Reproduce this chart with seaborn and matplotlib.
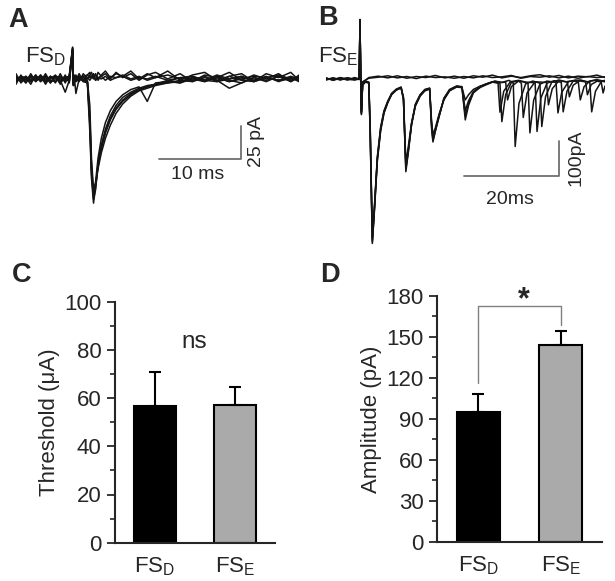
import pandas as pd
import seaborn as sns
import matplotlib.pyplot as plt
from matplotlib.ticker import MultipleLocator

# ---------------- data ----------------
# A: FS_D evoked EPSCs, time in ms, current in pA
a_time = [0.0, 0.6, 1.2, 1.8, 2.4, 3.0, 3.6, 4.2, 4.8, 5.4,
          6.0, 6.5, 6.9, 7.0, 7.1, 7.3, 7.7, 8.2, 8.7, 9.0,
          9.2, 9.45, 9.7, 10.0, 10.4, 10.9, 11.5, 12.2, 13.0, 14.0,
          15.0, 16.0, 17.0, 18.5, 20.0, 21.5, 23.0, 24.5, 26.0, 27.5,
          29.0, 30.5, 32.0, 33.5, 34.5]
a_sweep1 = [1, -2, 2, -1, 3, -2, 1, -3, 2, -1,
            2, -2, 23, -4, 1, -2, 1, -2, -3, -40,
            -75, -94, -82, -64, -50, -38, -28, -20, -14, -10,
            -7, -5, -4, -1, -3, 0, -2, 1, -2, 1,
            -1, 2, -2, 1, -1]
a_sweep2 = [-2, 2, -1, 3, -2, 1, -3, 2, 0, -2,
            1, 2, 22, -3, 2, -1, 2, -1, -2, -30,
            -68, -88, -80, -68, -56, -45, -35, -26, -19, -13,
            -9, -7, -5, -3, -2, 1, -2, 2, -1, -3,
            1, -2, 2, -1, 1]
a_sweep3 = [-1, 1, -3, 2, -1, 2, -2, 0, 3, -1,
            -10, -1, 24, -3, 1, -2, 0, 2, -1, -20,
            -60, -84, -78, -60, -45, -33, -24, -17, -12, -8,
            -6, -17, -3, -2, 1, -1, 2, -2, 0, 2,
            -2, 1, -1, 2, 0]
a_sweep4 = [2, 0, -2, 1, -1, 3, -1, 2, -2, 1,
            -1, 2, 23, -5, 2, -11, 0, -1, -2, -35,
            -72, -91, -84, -66, -52, -40, -30, -22, -16, -11,
            -8, -6, -4, -3, -1, -2, 1, -1, -7, -3,
            1, -1, 2, -2, 1]
a_sweep5 = [-2, 1, 0, -2, 2, -1, 2, -2, 1, 2,
            -2, 1, 22, -4, 2, -1, -1, 1, -2, -28,
            -66, -86, -80, -66, -53, -41, -31, -23, -17, -12,
            -8, -6, -4, -2, -3, 1, -1, -2, 2, -1,
            -2, 1, -1, 1, -2]
a_fail1 = [1, -1, 2, -2, 1, -1, 3, -1, -2, 1,
           1, -1, 21, -3, 2, 1, -1, 2, 3, 1,
           2, 0, 3, 1, 2, -1, 2, 1, 3, 0,
           2, -1, 1, 3, 0, 2, -1, 3, 0, 2,
           -1, 1, 3, 0, 2]
a_fail2 = [-1, 2, 1, -1, 0, 2, -2, 1, 2, -2,
           0, 2, 22, -4, 1, 0, 2, -1, 1, -1,
           1, 2, -1, 1, 0, 2, -1, 1, 2, -1,
           1, 0, 2, -1, 1, 2, -1, 1, -2, 0,
           2, 1, -1, 0, 1]
a_fail3 = [4, -3, 1, -4, 3, -2, 4, -3, 2, -4,
           3, -3, 22, -2, 3, -1, 4, -2, 3, 5,
           1, 4, -1, 5, 2, 4, 0, 5, 1, 4,
           -1, 3, 5, 0, 4, -2, 3, 1, 5, -1,
           3, 0, 4, -2, 3]
a_fail4 = [-4, 3, -3, 4, -2, 3, -4, 2, -3, 4,
           -3, 3, 24, -5, 0, 3, -2, 4, 0, 3,
           5, 1, 4, -1, 3, 6, 1, 4, 2, 6,
           0, 4, 1, 6, -1, 3, 5, -1, 2, 4,
           -2, 4, 1, 5, -1]

# B: FS_E evoked EPSC trains
b_early_time = [0, 1.5, 3, 4.5, 6, 7.0, 7.15, 7.3, 7.45, 7.7,
                8.3, 9.0, 9.3, 9.75, 10.2, 10.8, 11.5, 12.2, 13.0, 13.8,
                14.8, 15.8, 16.3, 16.8, 17.3, 18.0, 18.8, 19.8, 20.8, 21.8,
                22.2, 22.5, 23.0, 23.8, 24.8, 26.0, 27.5, 28.6, 29.3, 30.0,
                31.0, 32.5]
b_early1 = [3, -4, 2, -3, 4, 0, 169, 0, -100, -15,
            -8, -10, -150, -466, -370, -226, -140, -93, -65, -41,
            -29, -23, -60, -265, -212, -131, -74, -46, -31, -27,
            -140, -180, -150, -108, -55, -30, -20, -22, -117, -75,
            -40, -22]
b_early2 = [-2, 3, -3, 2, -1, 0, 165, 2, -95, -12,
            -6, -9, -135, -455, -365, -230, -148, -98, -68, -45,
            -31, -25, -55, -250, -205, -130, -78, -48, -33, -28,
            -125, -170, -145, -104, -58, -33, -22, -24, -60, -45,
            -30, -20]
b_early3 = [2, -2, 4, -1, -3, 1, 170, -2, -98, -18,
            -9, -12, -160, -470, -375, -235, -145, -96, -66, -44,
            -32, -26, -52, -240, -195, -125, -76, -49, -34, -29,
            -118, -160, -140, -100, -60, -34, -23, -25, -105, -70,
            -38, -24]
b_early4 = [-3, 2, -1, 3, -2, -1, 168, 1, -102, -14,
            -7, -11, -145, -460, -362, -222, -138, -91, -63, -43,
            -30, -24, -58, -258, -208, -128, -72, -45, -30, -26,
            -130, -176, -148, -106, -57, -31, -21, -23, -90, -62,
            -36, -21]

b_tail_time1 = [33.5, 35.0, 36.6, 37.0, 37.8, 39.0, 40.5, 42.5, 42.9, 43.7,
                45.0, 46.5, 48.4, 48.8, 49.6, 51.0, 52.5, 54.0, 55.5, 55.9,
                56.7, 58.0, 58.7]
b_tail1 = [-15, -8, -12, -122, -45, -10, -5, -12, -154, -60,
           -15, -6, -10, -97, -38, -8, -3, -7, -9, -94,
           -35, -6, -4]
b_tail_time2 = [34.0, 35.5, 37.0, 38.5, 39.4, 39.8, 40.6, 42.0, 43.5, 45.0,
                45.4, 46.2, 47.5, 49.0, 50.5, 52.0, 53.1, 53.5, 54.3, 55.5,
                57.0, 58.7]
b_tail2 = [-14, -6, -10, -4, -12, -193, -70, -14, -6, -12,
           -136, -50, -9, -3, -8, -5, -10, -60, -22, -6,
           -2, -7]
b_tail_time3 = [33.8, 35.0, 36.2, 36.6, 37.4, 38.8, 40.5, 42.0, 44.0, 44.4,
                45.2, 46.5, 48.0, 49.5, 49.9, 50.7, 52.0, 53.5, 55.0, 56.5,
                57.9, 58.3, 58.7]
b_tail3 = [-16, -9, -12, -95, -35, -8, -4, -9, -11, -150,
           -55, -12, -5, -10, -94, -35, -6, -3, -8, -4,
           -9, -40, -20]
b_tail_time4 = [34.0, 35.5, 37.0, 37.8, 38.2, 39.0, 40.5, 41.1, 41.5, 42.3,
                44.0, 46.4, 46.8, 47.6, 49.0, 50.8, 51.2, 52.0, 53.5, 54.6,
                55.0, 55.8, 57.2, 58.7]
b_tail4 = [-13, -7, -10, -9, -60, -22, -6, -12, -110, -40,
           -8, -10, -74, -28, -5, -9, -51, -18, -4, -8,
           -45, -16, -5, -8]

b_fail_time = [0, 1.5, 3, 4.5, 6, 7.0, 7.15, 7.3, 7.45, 7.7,
               9, 11, 13, 15, 17, 19, 21, 23, 25, 27,
               29, 31, 33, 35, 37, 39, 41, 43, 45, 47,
               49, 51, 53, 55, 57, 58.7]
b_fail1 = [2, -3, 3, -2, 1, 0, 160, 2, -90, -10,
           4, 8, 3, 9, 2, 7, 4, 10, 3, 8,
           2, 9, 5, 11, 3, 8, 4, 9, 12, 5,
           10, 3, 8, 6, 11, 4]
b_fail2 = [-1, 2, -2, 3, -1, 0, 164, -1, -94, -8,
           2, 5, 9, 3, 7, 1, 8, 4, 6, 2,
           7, 3, 9, 4, 6, 10, 2, 7, 5, 9,
           3, 8, 2, 7, 4, 6]

# C / D: bar summaries (mean, SEM)
groups = [r"FS$_\mathregular{D}$", r"FS$_\mathregular{E}$"]
threshold_mean = [56.8, 57.1]
threshold_sem = [14.0, 7.3]
amplitude_mean = [95.2, 144.1]
amplitude_sem = [13.0, 10.5]
bar_colors = ["black", "#aaaaaa"]

# ---------------- build long tables ----------------
rows = []
for name, vals in [("a1", a_sweep1), ("a2", a_sweep2), ("a3", a_sweep3),
                   ("a4", a_sweep4), ("a5", a_sweep5),
                   ("f1", a_fail1), ("f2", a_fail2),
                   ("f3", a_fail3), ("f4", a_fail4)]:
    rows += [(name, t, v) for t, v in zip(a_time, vals)]
df_a = pd.DataFrame(rows, columns=["sweep", "t", "pA"])

rows = []
b_sets = [("b1", b_early1, b_tail_time1, b_tail1),
          ("b2", b_early2, b_tail_time2, b_tail2),
          ("b3", b_early3, b_tail_time3, b_tail3),
          ("b4", b_early4, b_tail_time4, b_tail4)]
for name, early, tail_t, tail in b_sets:
    rows += [(name, t, v) for t, v in zip(b_early_time + tail_t, early + tail)]
for name, vals in [("f1", b_fail1), ("f2", b_fail2)]:
    rows += [(name, t, v) for t, v in zip(b_fail_time, vals)]
df_b = pd.DataFrame(rows, columns=["sweep", "t", "pA"])

# ---------------- figure ----------------
sns.set_style("ticks")
plt.rcParams["font.family"] = ["Liberation Sans", "DejaVu Sans"]
plt.rcParams["mathtext.fontset"] = "custom"
plt.rcParams["mathtext.rm"] = "Liberation Sans"
plt.rcParams["mathtext.it"] = "Liberation Sans:italic"

W, H = 615, 581
fig = plt.figure(figsize=(6.15, 5.81), dpi=100)


def px_axes(x0, y0, x1, y1):
    # axes from pixel box (top-left origin)
    return fig.add_axes([x0 / W, 1 - y1 / H, (x1 - x0) / W, (y1 - y0) / H])


trace_col = "#141414"
bar_col = "#707070"

# Panel A
axA = px_axes(16, 40, 299, 210)
sns.lineplot(data=df_a, x="t", y="pA", units="sweep", estimator=None,
             color=trace_col, lw=1.1, legend=False, ax=axA)
axA.set_xlim(0, 34.5)
axA.set_ylim(-99.2, 29.5)
axA.axis("off")
axA.plot([17.4, 27.4, 27.4], [-60.6, -60.6, -35.6], color=bar_col, lw=1.3)
axA.text(22.2, -72, "10 ms", ha="center", va="center", fontsize=14)
axA.text(29.3, -47.3, "25 pA", ha="center", va="center", rotation=90, fontsize=14)

# Panel B
axB = px_axes(326, 10, 605, 255)
sns.lineplot(data=df_b, x="t", y="pA", units="sweep", estimator=None,
             color=trace_col, lw=1.1, legend=False, ax=axB)
axB.set_xlim(0, 58.7)
axB.set_ylim(-503, 197)
axB.axis("off")
axB.plot([29.05, 49.05, 49.05], [-277, -277, -177], color=bar_col, lw=1.3)
axB.text(38.7, -344, "20ms", ha="center", va="center", fontsize=14)
axB.text(52.6, -226, "100pA", ha="center", va="center", rotation=90, fontsize=14)

fig.text(25 / W, 1 - 62 / H, groups[0], fontsize=16, va="baseline")
fig.text(318 / W, 1 - 62 / H, groups[1], fontsize=16, va="baseline")


def bar_panel(ax, mean, sem, ymax, step, minor, ylabel):
    df = pd.DataFrame({"group": groups, "value": mean})
    sns.barplot(data=df, x="group", y="value", hue="group", palette=bar_colors,
                edgecolor="black", linewidth=1.5, width=0.52, legend=False, ax=ax)
    ax.errorbar([0, 1], mean, yerr=[[0, 0], sem], fmt="none", ecolor="black",
                elinewidth=1.5, capsize=4.5, capthick=1.5, zorder=1)
    ax.set_xlim(-0.5, 1.5)
    ax.set_ylim(0, ymax)
    ax.yaxis.set_major_locator(MultipleLocator(step))
    ax.yaxis.set_minor_locator(MultipleLocator(minor))
    ax.tick_params(axis="y", which="major", length=5.8, width=1.3, labelsize=16, pad=4)
    ax.tick_params(axis="y", which="minor", length=3.5, width=1.2)
    ax.tick_params(axis="x", length=0, pad=9, labelsize=16)
    ax.set_xlabel("")
    ax.set_ylabel(ylabel, fontsize=16, labelpad=3)
    for s in ("left", "bottom"):
        ax.spines[s].set_linewidth(1.5)
    sns.despine(ax=ax)


# Panel C
axC = px_axes(115, 301.7, 275, 542.7)
bar_panel(axC, threshold_mean, threshold_sem, 100, 20, 10, "Threshold (μA)")
axC.text(0.49, 80.8, "ns", ha="center", va="baseline", fontsize=17.5)

# Panel D
axD = px_axes(437, 296, 602, 541.7)
bar_panel(axD, amplitude_mean, amplitude_sem, 180, 30, 15, "Amplitude (pA)")
axD.plot([0, 0, 1, 1], [116, 172.7, 172.7, 158.8], color="#808080", lw=1.0,
         clip_on=False)
axD.text(0.555, 171, "*", ha="center", va="baseline", fontsize=22,
         fontweight="bold", clip_on=False)

# panel letters
for x, y, lab in [(8, 27, "A"), (318, 25, "B"), (12, 282, "C"), (320, 282, "D")]:
    fig.text(x / W, 1 - y / H, lab, fontsize=19.5, fontweight="bold", va="baseline")

fig.savefig("out.png", dpi=100)
